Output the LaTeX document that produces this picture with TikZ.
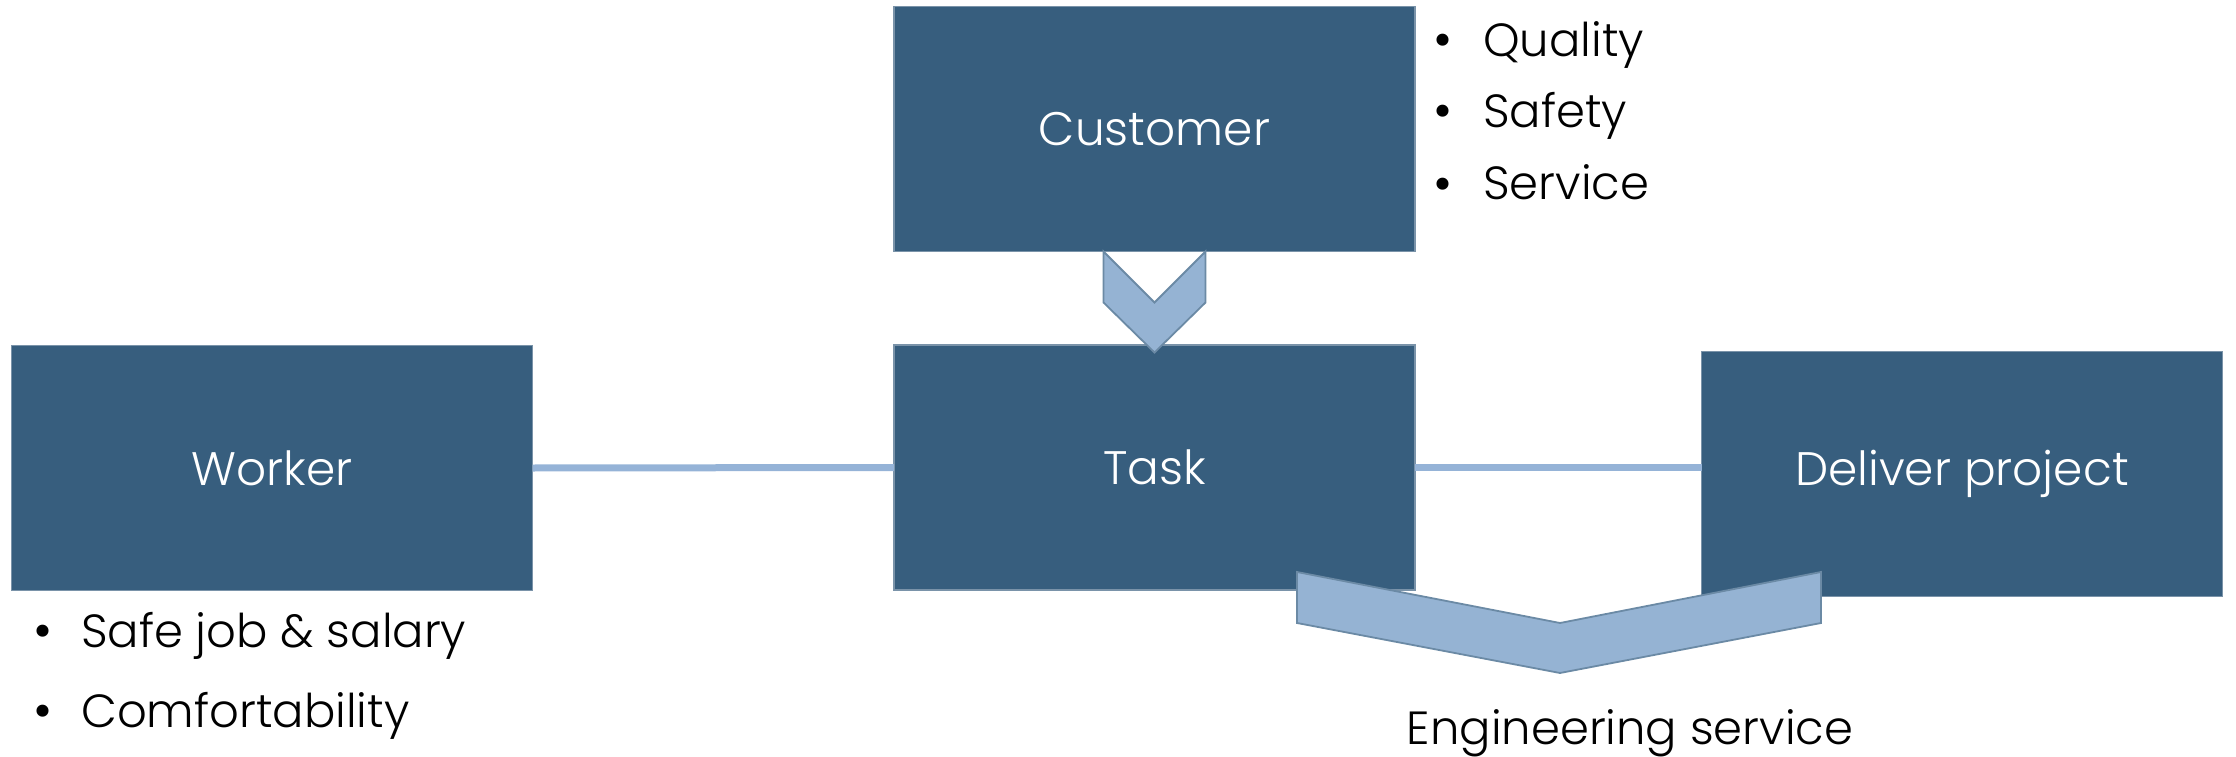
\documentclass[tikz,border=0pt]{standalone}
\usepackage{fontspec}
\setmainfont{Poppins}[UprightFont=* Light]
\begin{document}
\begin{tikzpicture}[x=1pt,y=-1pt]
  \definecolor{boxblue}{HTML}{375E7E}
  \definecolor{boxedge}{HTML}{7A93A9}
  \definecolor{chevfill}{HTML}{95B3D3}
  \definecolor{chevedge}{HTML}{6B8AA5}
  \definecolor{linkblue}{HTML}{95B3D7}
  \tikzset{
    block/.style={draw=boxedge, line width=1.5pt, fill=boxblue, text=white,
      inner sep=0pt, outer sep=0pt, minimum width=521pt, minimum height=245pt,
      font=\fontsize{47}{56}\selectfont},
    link/.style={draw=linkblue, line width=7pt},
    chev/.style={draw=chevedge, fill=chevfill, line width=1.8pt, line join=miter},
    item/.style={anchor=base west, inner sep=0pt, text=black,
      font=\fontsize{46.5}{56}\selectfont},
    dot/.style={anchor=base, inner sep=0pt, text=black,
      font=\fontsize{52}{56}\selectfont},
  }
  \useasboundingbox (0,0) rectangle (2236,757);

  % boxes
  \node[block] (customer) at (1154.5,129) {Customer};
  \node[block] (task)     at (1154.5,467.5) {Task};
  \node[block] (worker)   at (272,468) {Worker};
  \node[block] (deliver)  at (1962,474) {Deliver project};

  % connectors
  \draw[link] (worker.east) -- (task.west);
  \draw[link] (task.east) -- (deliver.west |- task.east);

  % chevron from customer down to task
  \draw[chev] ([xshift=-51pt]customer.south) -- ++(51,51) -- ++(51,-51)
    -- ++(0,51) -- ++(-51,50) -- ++(-51,-50) -- cycle;

  % chevron below task and deliver project
  \coordinate (es) at (1297,572);
  \draw[chev] (es) -- ++(263,51) -- ++(261,-51) -- ++(0,51)
    -- ++(-261,50) -- ++(-263,-50) -- cycle;

  % customer expectations
  \node[dot]  (d1) at (1443,58)  {•};
  \node[item] (q1) at (1483,57)  {Quality};
  \node[dot]  (d2) at (1443,129) {•};
  \node[item] (q2) at (1483,128) {Safety};
  \node[dot]  (d3) at (1443,201) {•};
  \node[item] (q3) at (1483,200) {Service};

  % worker expectations
  \node[dot]  (d4) at (43,648) {•};
  \node[item] (w1) at (81,647) {Safe job \& salary};
  \node[dot]  (d5) at (43,728) {•};
  \node[item] (w2) at (81,727) {Comfortability};

  % output label
  \node[anchor=base, inner sep=0pt, font=\fontsize{46.5}{56}\selectfont]
    (eng) at (1630,744) {Engineering service};
\end{tikzpicture}
\end{document}
